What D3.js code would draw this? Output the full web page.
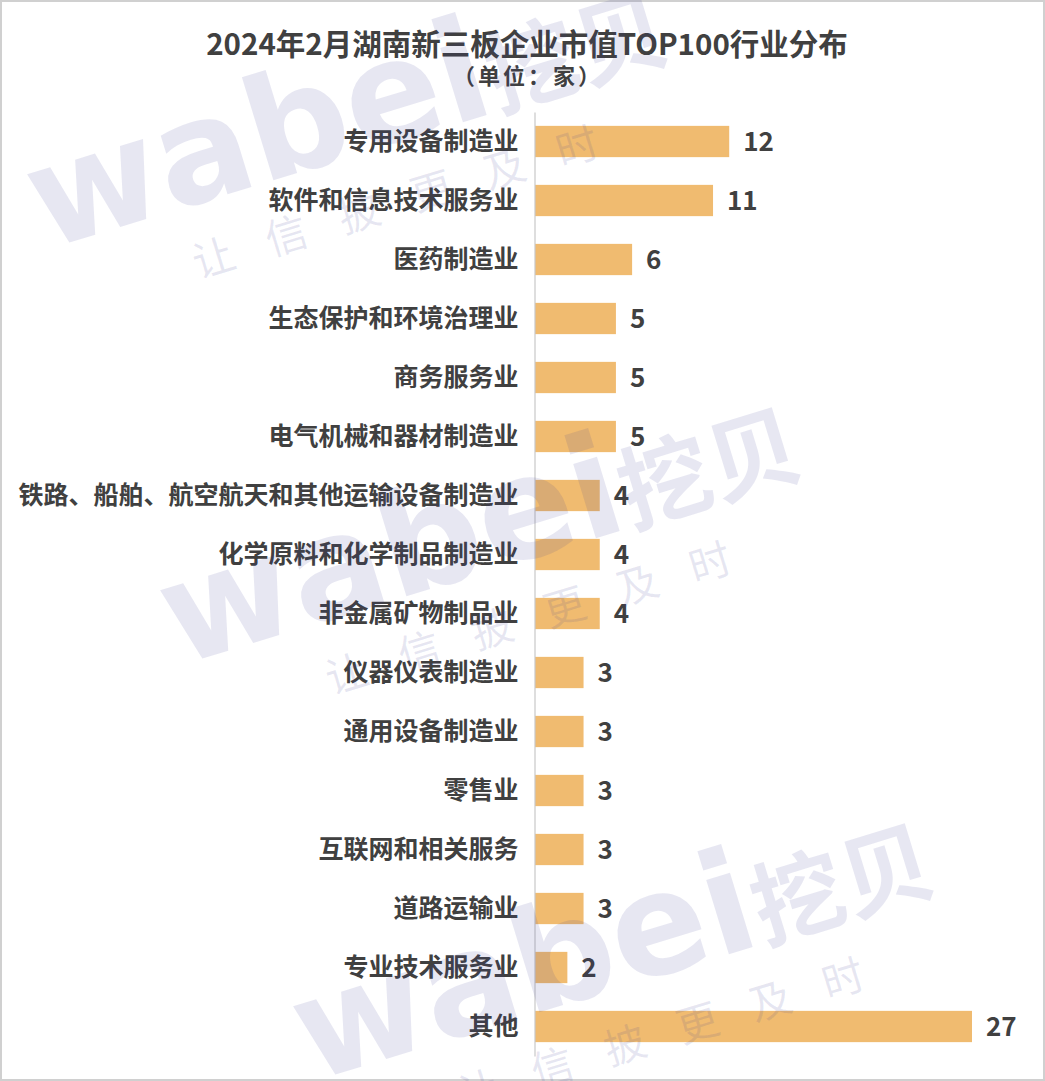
<!DOCTYPE html>
<html>
<head>
<meta charset="utf-8">
<script src="https://cdn.jsdelivr.net/npm/d3@7"></script>
<style>
  body { margin: 0; background: #fff; }
  svg { display: block; }
  text { font-family: "Noto Sans CJK SC", "Microsoft YaHei", sans-serif; }
</style>
</head>
<body>
<script>
// chart data
var categories = [
  "专用设备制造业", "软件和信息技术服务业", "医药制造业", "生态保护和环境治理业",
  "商务服务业", "电气机械和器材制造业", "铁路、船舶、航空航天和其他运输设备制造业",
  "化学原料和化学制品制造业", "非金属矿物制品业", "仪器仪表制造业", "通用设备制造业",
  "零售业", "互联网和相关服务", "道路运输业", "专业技术服务业", "其他"
];
var counts = [12, 11, 6, 5, 5, 5, 4, 4, 4, 3, 3, 3, 3, 3, 2, 27];
var title = "2024年2月湖南新三板企业市值TOP100行业分布";
var subtitle = "（单位：家）";
var wmLatin = "wabei",
    wmCjk = "挖贝",
    wmTag = "让信披更及时";

var W = 1045, H = 1081;
var barColor = "#f0bb70",
    textColor = "#404040";

var svg = d3.select("body").append("svg")
    .attr("width", W)
    .attr("height", H);

svg.append("rect")
    .attr("x", 1).attr("y", 1)
    .attr("width", W - 2).attr("height", H - 2)
    .attr("fill", "#fff")
    .attr("stroke", "#d0d0d0")
    .attr("stroke-width", 2);

var x = d3.scaleLinear().domain([0, 27]).range([535, 972]);
var y = d3.scaleBand().domain(categories)
    .range([112, 1056])
    .paddingInner(0.47)
    .paddingOuter(0.235);

// title
svg.append("text")
    .attr("x", 527).attr("y", 55)
    .attr("text-anchor", "middle")
    .attr("font-size", 29.5).attr("font-weight", "bold")
    .attr("fill", textColor)
    .text(title);
svg.append("text")
    .attr("x", 528).attr("y", 84)
    .attr("text-anchor", "middle")
    .attr("font-size", 22).attr("font-weight", "bold")
    .attr("letter-spacing", 3)
    .attr("fill", textColor)
    .text(subtitle);

// bars
svg.append("g").selectAll("rect")
    .data(counts)
  .enter().append("rect")
    .attr("x", x(0))
    .attr("y", function(d, i) { return y(categories[i]); })
    .attr("width", function(d) { return x(d) - x(0); })
    .attr("height", y.bandwidth())
    .attr("fill", barColor);

// category axis
var yAxis = svg.append("g")
    .attr("transform", "translate(" + (x(0) - 0.5) + ",0)")
    .call(d3.axisLeft(y).tickSize(0).tickPadding(16));
yAxis.select(".domain").attr("stroke", "#c8c8c8").attr("stroke-width", 1.2);
yAxis.selectAll("text")
    .attr("font-size", 25).attr("font-weight", "bold")
    .attr("fill", textColor)
    .style("font-family", "'Noto Sans CJK SC', sans-serif");

// value labels
svg.append("g").selectAll("text")
    .data(counts)
  .enter().append("text")
    .attr("x", function(d) { return x(d) + 14; })
    .attr("y", function(d, i) { return y(categories[i]) + y.bandwidth() / 2; })
    .attr("dy", "0.36em")
    .attr("font-size", 26).attr("font-weight", "bold")
    .attr("fill", textColor)
    .text(function(d) { return d; });

// watermark, three copies down the page
var marks = [[45, 250], [178, 666], [311, 1082]];
var wm = svg.append("g").attr("pointer-events", "none");
marks.forEach(function(p) {
  var g = wm.append("g")
      .attr("transform", "translate(" + p[0] + "," + p[1] + ") rotate(-17)")
      .attr("fill", "#3c3c96")
      .attr("fill-opacity", 0.12);
  var t = g.append("text")
      .attr("font-weight", "bold");
  t.append("tspan")
      .attr("font-size", 142)
      .style("font-family", "'DejaVu Sans', sans-serif")
      .text(wmLatin);
  t.append("tspan")
      .attr("font-size", 92)
      .style("font-family", "'Noto Sans CJK SC', sans-serif")
      .text(wmCjk);
  g.append("text")
      .attr("x", 138).attr("y", 72)
      .attr("font-size", 42)
      .attr("letter-spacing", 34)
      .text(wmTag);
});
</script>
</body>
</html>
